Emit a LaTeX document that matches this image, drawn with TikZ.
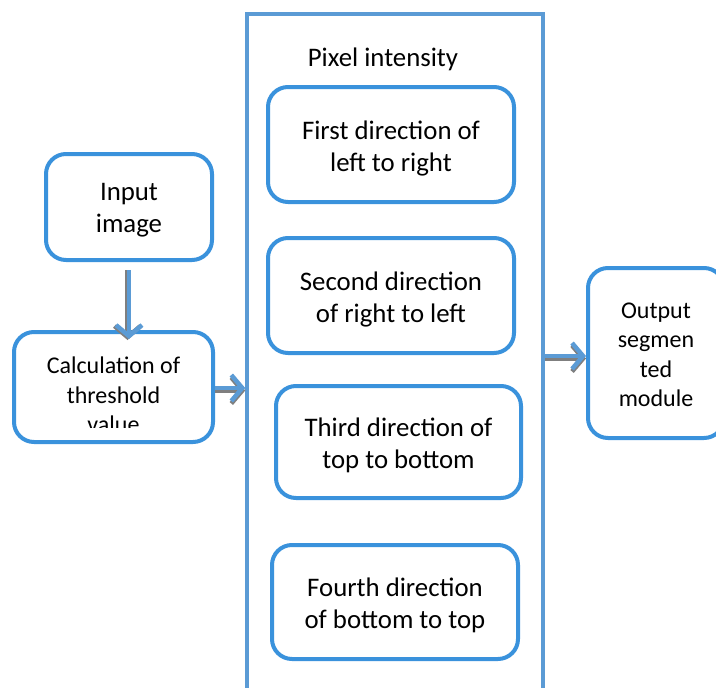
\documentclass[tikz,border=0pt]{standalone}
\usepackage{fontspec}
\setmainfont{Carlito}
\usetikzlibrary{arrows.meta}
\definecolor{boxblue}{HTML}{3A92DC}
\definecolor{frameblue}{HTML}{5B9BD5}
\definecolor{shade}{HTML}{7F7F7F}
\tikzset{
  stepbox/.style={draw=boxblue, line width=4pt, rounded corners=20pt, fill=white,
    inner sep=0pt},
  bigtext/.style={font=\fontsize{26.8}{32}\selectfont, align=center},
  midtext/.style={font=\fontsize{24}{29.5}\selectfont, align=center},
  flow/.style={draw=frameblue, line width=4.5pt, -{Straight Barb[length=11pt,width=26pt,line width=4.5pt]}},
  flowshade/.style={draw=shade, line width=4.5pt, -{Straight Barb[length=11pt,width=26pt,line width=4.5pt]}},
}
\begin{document}
\begin{tikzpicture}[x=1pt,y=-1pt]
\useasboundingbox (0,0) rectangle (716,688);

% frame grouping the four scan directions
\node[draw=frameblue, line width=3.5pt, minimum width=296pt, minimum height=700pt,
      inner sep=0pt] (group) at (395,364) {};
\node[font=\fontsize{26.8}{32}\selectfont] (title) at (383,59) {Pixel intensity};

% left column
\node[stepbox, minimum width=166pt, minimum height=106pt] (input) at (129,207) {};
\node[bigtext] (inputt) at ([yshift=-3.5pt]input.center) {Input\\image};
\node[stepbox, minimum width=199pt, minimum height=110pt] (calc) at (113.5,387) {};
\begin{scope}
  \clip (20,338) rectangle (208,427);
  \node[midtext] (calct) at (113.5,395) {Calculation of\\threshold\\value};
\end{scope}

% scan directions
\node[stepbox, minimum width=246pt, minimum height=115pt] (d1) at (391,144.5) {};
\node[bigtext] (d1t) at ([yshift=-3.5pt]d1.center) {First direction of\\left to right};
\node[stepbox, minimum width=246pt, minimum height=115pt] (d2) at (391,295.5) {};
\node[bigtext] (d2t) at ([yshift=-3.5pt]d2.center) {Second direction\\of right to left};
\node[stepbox, minimum width=245pt, minimum height=112pt] (d3) at (398.5,442) {};
\node[bigtext] (d3t) at ([yshift=-3.5pt]d3.center) {Third direction of\\top to bottom};
\node[stepbox, minimum width=246pt, minimum height=114pt] (d4) at (395,602) {};
\node[bigtext] (d4t) at ([yshift=-3.5pt]d4.center) {Fourth direction\\of bottom to top};

% output
\node[stepbox, minimum width=136pt, minimum height=170pt] (out) at (656,353) {};
\node[midtext] (outt) at (656,355) {Output\\segmen\\ted\\module};

% connectors with a soft grey shadow
\coordinate (a1s) at ([yshift=-8pt]input.south);
\coordinate (a1e) at ([yshift=-9pt]a1s |- calc.north);
\coordinate (a2s) at (calc.east |- 0,388);
\coordinate (a2e) at (group.west |- 0,388);
\coordinate (a3s) at (group.east |- 0,356);
\coordinate (a3e) at (out.west |- 0,356);

\draw[flowshade] ([xshift=-1.5pt]a1s) -- ([xshift=-1.5pt,yshift=-1pt]a1e);
\draw[flow] (a1s) -- (a1e);
\draw[flowshade] ([yshift=-2.5pt]a2s) -- ([yshift=-2.5pt]a2e);
\draw[flow] (a2s) -- (a2e);
\draw[flowshade] ([yshift=-2.5pt]a3s) -- ([yshift=-2.5pt]a3e);
\draw[flow] (a3s) -- (a3e);
\end{tikzpicture}
\end{document}
